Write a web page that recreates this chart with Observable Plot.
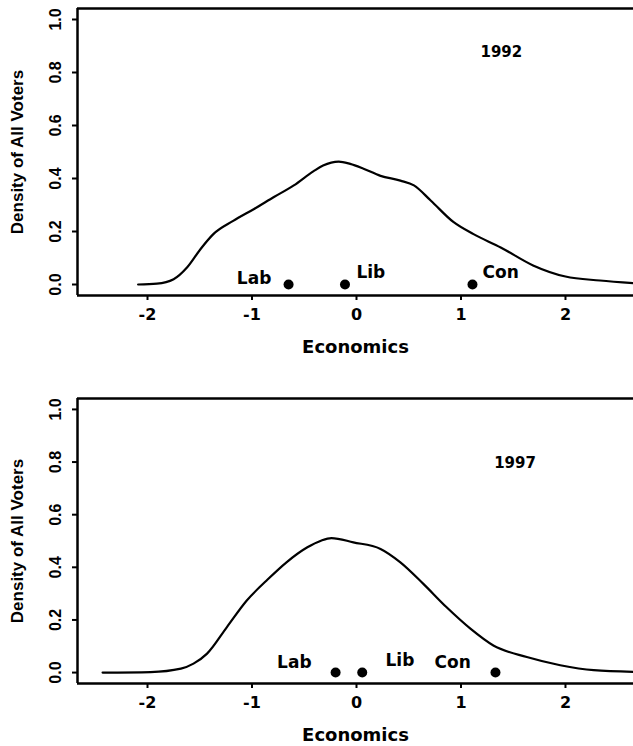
<!DOCTYPE html>
<html>
<head>
<meta charset="utf-8">
<script src="https://cdn.jsdelivr.net/npm/d3@7"></script>
<script src="https://cdn.jsdelivr.net/npm/@observablehq/plot@0.6"></script>
<style>
  html, body { margin: 0; padding: 0; background: white; overflow: hidden; }
  #chart svg { display: block; }
</style>
</head>
<body>
<div id="chart"></div>
<script>
// ---- data ----
const xTicks = [-2, -1, 0, 1, 2];
const yTicks = [0, 0.2, 0.4, 0.6, 0.8, 1.0];
const parties = ["Lab", "Lib", "Con"];
const years = ["1992", "1997"];

const x1992 = [-2.09, -1.91, -1.75, -1.62, -1.49, -1.37, -1.18, -0.98, -0.79, -0.60, -0.41, -0.32, -0.17, -0.06, 0.067, 0.23, 0.42, 0.55, 0.71, 0.93, 1.12, 1.38, 1.69, 2.0, 2.33, 2.65];
const dens1992 = [0.0, 0.003, 0.02, 0.065, 0.135, 0.19, 0.24, 0.285, 0.33, 0.374, 0.428, 0.449, 0.464, 0.455, 0.437, 0.41, 0.392, 0.374, 0.317, 0.235, 0.19, 0.14, 0.072, 0.03, 0.015, 0.005];
const party1992 = [-0.65, -0.11, 1.11];
const labelX1992 = [-0.98, 0.137, 1.38];
const labelY1992 = [0.023, 0.046, 0.046];

const x1997 = [-2.43, -1.97, -1.68, -1.56, -1.43, -1.24, -1.05, -0.86, -0.67, -0.47, -0.34, -0.24, -0.03, 0.23, 0.42, 0.64, 0.86, 1.09, 1.31, 1.63, 1.95, 2.27, 2.65];
const dens1997 = [0.0, 0.002, 0.015, 0.034, 0.072, 0.173, 0.274, 0.35, 0.419, 0.476, 0.501, 0.511, 0.495, 0.47, 0.419, 0.337, 0.249, 0.167, 0.103, 0.059, 0.028, 0.009, 0.003];
const party1997 = [-0.20, 0.055, 1.33];
const labelX1997 = [-0.595, 0.416, 0.92];
const labelY1997 = [0.04, 0.045, 0.04];

const yearX = [1.386, 1.517];
const yearY = [0.877, 0.795];

const xDomain = [-2.67, 2.651];
const yDomain = [-0.0415, 1.0415];

function panel(xs, ys, partyPos, labX, labY, yi, marginTop, marginBottom) {
  const curve = xs.map((x, i) => ({x, y: ys[i]}));
  const wide = {fontFamily: "DejaVu Sans", fontWeight: "bold", fill: "black"};
  const narrow = {fontFamily: "Liberation Sans", fontWeight: "bold", fill: "black"};
  return Plot.plot({
    width: 633,
    height: 373,
    marginLeft: 77,
    marginRight: 0,
    marginTop,
    marginBottom,
    style: {background: "white", color: "black", overflow: "visible"},
    x: {domain: xDomain},
    y: {domain: yDomain},
    marks: [
      Plot.axisX({ticks: xTicks, tickSize: 5, tickPadding: 8, strokeWidth: 2, tickFormat: d => String(d), label: null, fontSize: 16, ...wide}),
      Plot.axisY({ticks: yTicks, tickSize: 5, tickPadding: 12, tickRotate: -90, strokeWidth: 2, tickFormat: d3.format(".1f"), label: null, fontSize: 16, ...narrow}),
      Plot.ruleY([yDomain[0], yDomain[1]], {stroke: "black", strokeWidth: 2.5}),
      Plot.ruleX([xDomain[0]], {stroke: "black", strokeWidth: 2.5}),
      Plot.line(curve, {x: "x", y: "y", curve: "monotone-x", stroke: "black", strokeWidth: 2.2}),
      Plot.dot(partyPos, {x: d => d, y: () => 0, r: 5, fill: "black", stroke: null}),
      Plot.text(parties, {x: (d, i) => labX[i], y: (d, i) => labY[i], text: d => d, fontSize: 17, ...wide}),
      Plot.text([years[yi]], {x: () => yearX[yi], y: () => yearY[yi], text: d => d, fontSize: 15, ...wide}),
      Plot.text(["Density of All Voters"], {frameAnchor: "left", textAnchor: "middle", lineAnchor: "middle", rotate: -90, dx: -60, text: d => d, fontSize: 17, ...narrow}),
      Plot.text(["Economics"], {frameAnchor: "bottom", textAnchor: "middle", lineAnchor: "middle", dy: 52, text: d => d, fontSize: 18, ...wide})
    ]
  });
}

const root = document.getElementById("chart");
root.appendChild(panel(x1992, dens1992, party1992, labelX1992, labelY1992, 0, 8, 78));
root.appendChild(panel(x1997, dens1997, party1997, labelX1997, labelY1997, 1, 25, 63));
</script>
</body>
</html>
